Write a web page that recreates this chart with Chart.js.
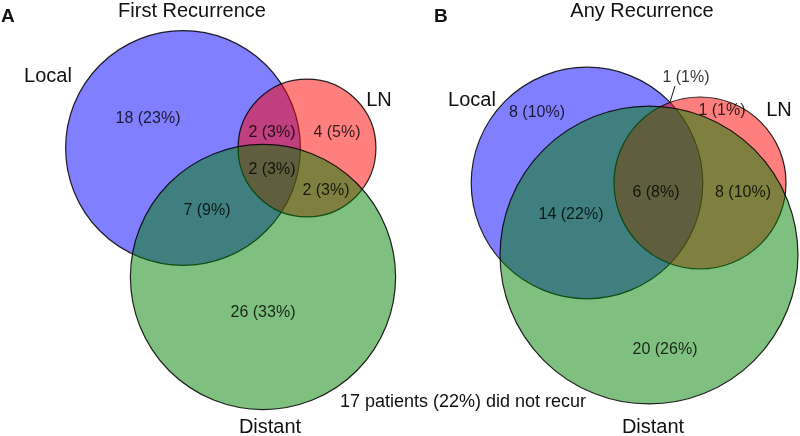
<!DOCTYPE html>
<html>
<head>
<meta charset="utf-8">
<script src="https://cdn.jsdelivr.net/npm/chart.js@4.4.0/dist/chart.umd.min.js"></script>
<style>
html, body { margin: 0; padding: 0; background: #fff; }
canvas { display: block; }
</style>
</head>
<body>
<canvas id="venn" width="800" height="436"></canvas>
<script>
// data
const panelTitles = ['First Recurrence', 'Any Recurrence'];
const panelTags = ['A', 'B'];
const setNames = ['Local', 'LN', 'Distant'];
// regions: Local only, LN only, Distant only, Local+LN, Local+Distant, LN+Distant, all three
const regionSets = [[0], [1], [2], [0, 1], [0, 2], [1, 2], [0, 1, 2]];
const countsFirst = [18, 4, 26, 2, 7, 2, 2];
const countsAny = [8, 1, 20, 1, 14, 8, 6];
const pctFirst = [23, 5, 33, 3, 9, 3, 3];
const pctAny = [10, 1, 26, 1, 22, 10, 8];
const noRecurCount = 17;
const noRecurPct = 22;

// layout, in drawing units (x 0..800, y 0..436)
const circleCenters = [
    [[183, 148], [307, 148], [263, 277]],
    [[587, 183], [700, 183], [649, 255]]
];
const unitsPerSqrt = [21.8, 21.5]; // circle area is proportional to set size
const regionLabelPos = [
    [[148, 119], [337, 133], [263, 313], [272, 133], [207, 211], [326, 191], [272, 170]],
    [[537, 113], [722, 111], [665, 350], [686, 78], [571, 215], [743, 193], [656, 193]]
];
const setLabelPos = [
    [[48, 76], [379, 100], [270, 427]],
    [[472, 100], [779, 110], [653, 427]]
];
const leaderLine = [[675, 86], [670, 102]]; // panel B, Local+LN only
const footnotePos = [463, 402];
const titlePos = [[192, 17], [642, 17]];
const tagPos = [[1, 22], [434, 22]];

const fills = ['rgba(0,0,255,0.5)', 'rgba(255,0,0,0.5)', 'rgba(0,128,0,0.5)'];
const font = '"Liberation Sans", Arial, sans-serif';

const allCounts = [countsFirst, countsAny];
const allPct = [pctFirst, pctAny];

const datasets = [];
allCounts.forEach((counts, p) => {
    setNames.forEach((name, s) => {
        // set total = sum of every region that contains the set
        const total = counts.reduce((acc, c, k) => regionSets[k].includes(s) ? acc + c : acc, 0);
        datasets.push({
            label: panelTitles[p] + ' ' + name,
            data: [{ x: circleCenters[p][s][0], y: circleCenters[p][s][1], n: total }],
            pointBackgroundColor: fills[s],
            pointBorderColor: 'rgba(0,0,0,0.85)',
            pointBorderWidth: 1.2,
            order: 3 - s,
            clip: false,
            pointRadius: (ctx) => {
                const xs = ctx.chart.scales.x;
                const d = ctx.raw;
                if (!d) return 0;
                const r = xs.getPixelForValue(d.x + unitsPerSqrt[p] * Math.sqrt(d.n)) - xs.getPixelForValue(d.x);
                return isFinite(r) ? r : 0;
            }
        });
    });
});

const vennText = {
    id: 'vennText',
    afterDatasetsDraw(chart) {
        const { ctx, scales: { x, y } } = chart;
        const px = (pt) => [x.getPixelForValue(pt[0]), y.getPixelForValue(pt[1])];
        ctx.save();
        ctx.textAlign = 'center';
        ctx.textBaseline = 'middle';

        allCounts.forEach((counts, p) => {
            // region counts
            ctx.font = '16px ' + font;
            ctx.fillStyle = 'rgba(0,0,0,0.8)';
            counts.forEach((c, k) => {
                const [tx, ty] = px(regionLabelPos[p][k]);
                ctx.fillText(c + ' (' + allPct[p][k] + '%)', tx, ty);
            });
            // set names
            ctx.font = '20px ' + font;
            ctx.fillStyle = '#111';
            setNames.forEach((name, s) => {
                const [tx, ty] = px(setLabelPos[p][s]);
                ctx.fillText(name, tx, ty);
            });
            // titles
            ctx.textBaseline = 'alphabetic';
            const [ttx, tty] = px(titlePos[p]);
            ctx.fillText(panelTitles[p], ttx, tty);
            ctx.textAlign = 'left';
            ctx.font = 'bold 19px ' + font;
            const [gx, gy] = px(tagPos[p]);
            ctx.fillText(panelTags[p], gx, gy);
            ctx.textAlign = 'center';
            ctx.textBaseline = 'middle';
        });

        // leader for the tiny Local+LN region in panel B
        const [ax, ay] = px(leaderLine[0]);
        const [bx, by] = px(leaderLine[1]);
        ctx.strokeStyle = '#111';
        ctx.lineWidth = 1;
        ctx.beginPath();
        ctx.moveTo(ax, ay);
        ctx.lineTo(bx, by);
        ctx.stroke();

        ctx.font = '18px ' + font;
        ctx.fillStyle = '#111';
        const [fx, fy] = px(footnotePos);
        ctx.fillText(noRecurCount + ' patients (' + noRecurPct + '%) did not recur', fx, fy);
        ctx.restore();
    }
};

new Chart(document.getElementById('venn'), {
    type: 'scatter',
    data: { datasets: datasets },
    options: {
        responsive: false,
        animation: false,
        events: [],
        layout: { padding: 0 },
        plugins: { legend: { display: false }, tooltip: { enabled: false } },
        scales: {
            x: { type: 'linear', min: 0, max: 800, display: false },
            y: { type: 'linear', min: 0, max: 436, reverse: true, display: false }
        }
    },
    plugins: [vennText]
});
</script>
</body>
</html>
